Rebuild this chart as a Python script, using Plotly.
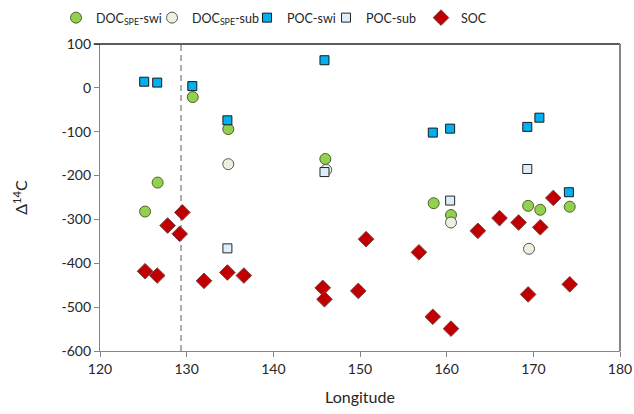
import plotly.graph_objects as go

# DOC(SPE) surface water intrusion
doc_swi_lon = [125.2, 126.65, 130.7, 134.8, 146.0, 158.5, 160.5, 169.4, 170.8, 174.2]
doc_swi_val = [-282, -216, -21, -94, -162, -263, -290, -269, -278, -271]

# DOC(SPE) subsurface
doc_sub_lon = [134.8, 146.1, 160.5, 169.5]
doc_sub_val = [-174, -187, -307, -367]

# POC surface water intrusion
poc_swi_lon = [125.1, 126.6, 130.65, 134.7, 145.9, 158.4, 160.4, 169.3, 170.7, 174.1]
poc_swi_val = [14, 12, 4, -74, 63, -102, -93, -89, -68, -238]

# POC subsurface
poc_sub_lon = [134.7, 145.9, 160.4, 169.3]
poc_sub_val = [-366, -192, -257, -185]

# SOC
soc_lon = [125.2, 126.6, 127.8, 129.2, 129.5, 132.0, 134.7, 136.6, 145.7, 145.9, 149.8,
           150.7, 156.8, 158.4, 160.5, 163.6, 166.1, 168.3, 169.4, 170.8, 172.3, 174.2]
soc_val = [-418, -428, -314, -333, -284, -440, -421, -428, -456, -482, -463,
           -345, -375, -522, -549, -326, -297, -307, -471, -318, -251, -448]

boundary_lon = 129.35

x_ticks = [120, 130, 140, 150, 160, 170, 180]
x_tick_labels = ["120", "130", "140", "150", "160", "170", "180"]
y_ticks = [100, 0, -100, -200, -300, -400, -500, -600]
y_tick_labels = ["100", "0", "-100", "-200", "-300", "-400", "-500", "-600"]

FONT = "Lato"
TXT = "#262626"
W, H = 634, 414

fig = go.Figure()
fig.add_vline(x=boundary_lon, line=dict(color="#999999", width=1.6, dash="6px,4px"), layer="below")

series = [
    (doc_swi_lon, doc_swi_val, "DOC<sub>SPE</sub>-swi", "circle", 11, "#92D050", "#4F6228", "legend"),
    (doc_sub_lon, doc_sub_val, "DOC<sub>SPE</sub>-sub", "circle", 11, "#EBF1DE", "#595959", "legend2"),
    (poc_swi_lon, poc_swi_val, "POC-swi", "square", 9, "#00B0F0", "#1a1a1a", "legend3"),
    (poc_sub_lon, poc_sub_val, "POC-sub", "square", 9, "#DDEEFB", "#262626", "legend4"),
    (soc_lon, soc_val, "SOC", "diamond", 12, "#C00000", "#7f3f3f", "legend5"),
]
for lon, val, name, sym, size, fill, edge, lg in series:
    fig.add_trace(go.Scatter(x=lon, y=val, mode="markers", name=name, legend=lg,
                             marker=dict(symbol=sym, size=size, color=fill,
                                         line=dict(color=edge, width=1))))

legend_left_px = [56, 152, 247, 326, 421]
legends = {}
for i, px in enumerate(legend_left_px):
    key = "legend" if i == 0 else f"legend{i+1}"
    legends[key] = dict(xref="container", yref="container", x=px / W, y=1 - 18 / H,
                        xanchor="left", yanchor="middle", orientation="h",
                        font=dict(size=12.5, color=TXT), bgcolor="rgba(0,0,0,0)",
                        itemwidth=30)

# top border line
fig.add_shape(type="line", xref="paper", yref="paper", x0=-0.012, x1=1, y0=1, y1=1,
              line=dict(color="#262626", width=1.5))
# right border line (grey)
fig.add_shape(type="line", xref="paper", yref="paper", x0=1, x1=1, y0=0, y1=1,
              line=dict(color="#868686", width=2))

fig.update_layout(
    width=W, height=H,
    margin=dict(l=100, r=14, t=44, b=63, autoexpand=False),
    paper_bgcolor="white", plot_bgcolor="white",
    font=dict(family=FONT, size=14, color=TXT),
    showlegend=True,
    **legends,
    xaxis=dict(range=[120, 180], tickvals=x_ticks, ticktext=x_tick_labels,
               showgrid=False, zeroline=False,
               showline=True, linecolor="#868686", linewidth=1.2, mirror=False,
               ticks="outside", ticklen=5, tickcolor="#868686",
               title=dict(text="Longitude", font=dict(size=16, color=TXT), standoff=15),
               tickfont=dict(size=14, color=TXT)),
    yaxis=dict(range=[-600, 100], tickvals=y_ticks, ticktext=y_tick_labels,
               showgrid=False, zeroline=False,
               showline=True, linecolor="#868686", linewidth=1.2, mirror=False,
               ticks="outside", ticklen=5, tickcolor="#868686",
               title=dict(text="Δ<sup>14</sup>C", font=dict(size=16, color=TXT), standoff=29),
               tickfont=dict(size=14, color=TXT)),
)

fig.write_html("out.html", config={"displayModeBar": False},
               post_script="document.body.style.margin='0';")
